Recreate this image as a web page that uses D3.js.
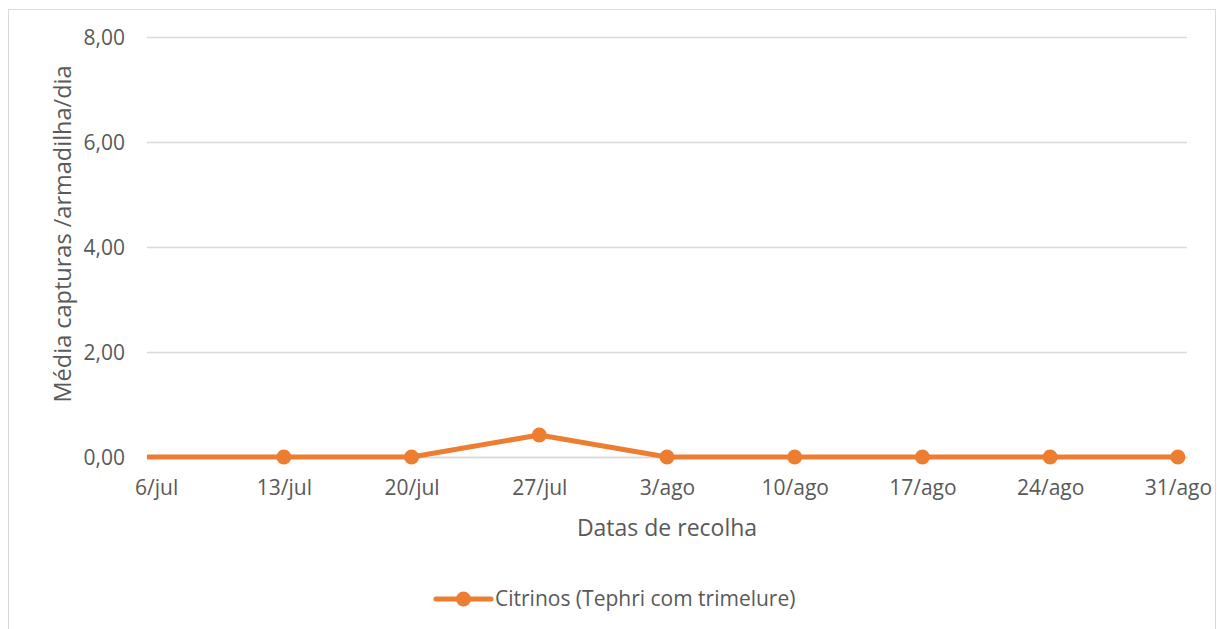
<!DOCTYPE html>
<html>
<head>
<meta charset="utf-8">
<script src="https://cdn.jsdelivr.net/npm/d3@7"></script>
<style>
  html, body { margin: 0; padding: 0; background: #fff; }
  svg { display: block; }
  svg text { font-family: "Open Sans", "Noto Sans", sans-serif; }
</style>
</head>
<body>
<svg id="chart" width="1217" height="629"></svg>
<script>
// ---- data ----
const tickDates = ["2019-07-06","2019-07-13","2019-07-20","2019-07-27","2019-08-03","2019-08-10","2019-08-17","2019-08-24","2019-08-31"];
const tickLabels = ["6/jul","13/jul","20/jul","27/jul","3/ago","10/ago","17/ago","24/ago","31/ago"];
// series (first point lies before the axis minimum and is clipped, as in the original)
const seriesDates = ["2019-06-29","2019-07-13","2019-07-20","2019-07-27","2019-08-03","2019-08-10","2019-08-17","2019-08-24","2019-08-31"];
const seriesValues = [0, 0, 0, 0.42, 0, 0, 0, 0, 0];
const seriesName = "Citrinos (Tephri com trimelure)";
const yTicks = [0, 2, 4, 6, 8];
const yTitle = "Média capturas /armadilha/dia";
const xTitle = "Datas de recolha";

// ---- drawing ----
const svg = d3.select("#chart");
const plot = { left: 147, right: 1187, top: 37, bottom: 457 };
const orange = "#ED7D31", grid = "#D9D9D9", text = "#595959";
const FONT = '"Open Sans", "Noto Sans", sans-serif';
const parse = d3.utcParse("%Y-%m-%d");
const HALF_DAY = 12 * 3600 * 1000;

svg.append("rect").attr("x", 8.5).attr("y", 9.5).attr("width", 1207).attr("height", 640)
  .attr("fill", "#fff").attr("stroke", grid).attr("stroke-width", 1);

const tD = tickDates.map(parse);
const x = d3.scaleUtc()
  .domain([new Date(+tD[0] - HALF_DAY), new Date(+tD[tD.length - 1] + HALF_DAY)])
  .range([plot.left, plot.right]);
const y = d3.scaleLinear().domain([0, 8]).range([plot.bottom, plot.top]);

// y axis with gridlines
const yAxis = d3.axisLeft(y).tickValues(yTicks)
  .tickFormat(d => d3.format(".2f")(d).replace(".", ","))
  .tickSize(-(plot.right - plot.left)).tickPadding(22);
const gy = svg.append("g").attr("transform", `translate(${plot.left},0)`).call(yAxis)
  .attr("font-family", FONT);
gy.select(".domain").remove();
gy.selectAll(".tick line").attr("stroke", grid).attr("stroke-width", 1.3);
gy.selectAll(".tick text").attr("fill", text).attr("font-size", 21).attr("dy", "0.36em");

// x axis
const xAxis = d3.axisBottom(x).tickValues(tD)
  .tickFormat((d, i) => tickLabels[i]).tickSize(0).tickPadding(23);
const gx = svg.append("g").attr("transform", `translate(0,${plot.bottom})`).call(xAxis)
  .attr("font-family", FONT);
gx.select(".domain").attr("stroke", grid).attr("stroke-width", 1.3);
gx.selectAll(".tick text").attr("fill", text).attr("font-size", 21);

// clip to plot area
svg.append("clipPath").attr("id", "clip").append("rect")
  .attr("x", plot.left).attr("y", plot.top - 20)
  .attr("width", plot.right - plot.left + 20).attr("height", plot.bottom - plot.top + 40);

const data = seriesDates.map((d, i) => ({ date: parse(d), value: seriesValues[i] }));
const line = d3.line().x(d => x(d.date)).y(d => y(d.value));
const g = svg.append("g").attr("clip-path", "url(#clip)");
g.append("path").datum(data).attr("d", line)
  .attr("fill", "none").attr("stroke", orange).attr("stroke-width", 5)
  .attr("stroke-linejoin", "round");
g.selectAll("circle").data(data.filter(d => d.date >= x.domain()[0])).join("circle")
  .attr("cx", d => x(d.date)).attr("cy", d => y(d.value)).attr("r", 7.5)
  .attr("fill", orange);

// axis titles
svg.append("text").attr("x", (plot.left + plot.right) / 2).attr("y", 536)
  .attr("text-anchor", "middle").attr("fill", text).attr("font-size", 23).text(xTitle);
svg.append("text")
  .attr("transform", `translate(71,${(plot.top + plot.bottom) / 2 - 13}) rotate(-90)`)
  .attr("text-anchor", "middle").attr("fill", text).attr("font-size", 23.5).text(yTitle);

// legend
const lg = svg.append("g").attr("transform", "translate(436,599)");
lg.append("line").attr("x1", 0).attr("x2", 55).attr("y1", 0).attr("y2", 0)
  .attr("stroke", orange).attr("stroke-width", 5).attr("stroke-linecap", "round");
lg.append("circle").attr("cx", 27.5).attr("cy", 0).attr("r", 7.5).attr("fill", orange);
lg.append("text").attr("x", 59).attr("y", 0).attr("dy", "0.35em")
  .attr("fill", text).attr("font-size", 21).text(seriesName);
</script>
</body>
</html>
